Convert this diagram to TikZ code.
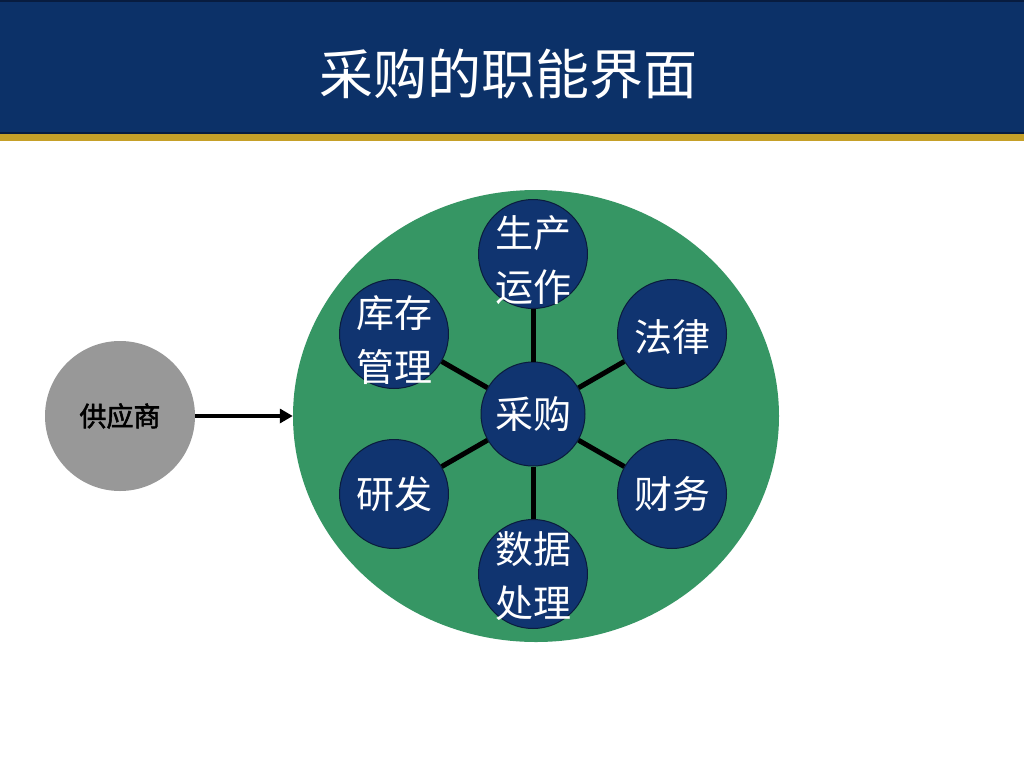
\documentclass[tikz,border=0pt]{standalone}
\usepackage{fontspec}
\setmainfont{Liberation Sans}
\newfontfamily\cjk{Noto Sans CJK SC}
\newfontfamily\cjkb[FakeBold=2]{Noto Sans CJK SC}
\usetikzlibrary{arrows.meta,shapes.geometric}
\definecolor{hdrblue}{RGB}{12,49,104}
\definecolor{hdredge}{RGB}{8,28,64}
\definecolor{gold}{RGB}{198,160,40}
\definecolor{biggreen}{RGB}{54,150,100}
\definecolor{navy}{RGB}{16,52,112}
\definecolor{navyedge}{RGB}{10,28,60}
\definecolor{supgray}{RGB}{152,152,152}
\tikzset{
  func/.style={circle, fill=navy, draw=navyedge, line width=1pt, minimum size=109pt, inner sep=0pt},
  functext/.style={text=white, align=center, inner sep=0pt, font=\cjk\fontsize{38}{54}\selectfont},
  spoke/.style={line width=5pt, draw=black},
  hub/.style={ellipse, fill=biggreen, draw=none, minimum width=486pt, minimum height=452pt, inner sep=0pt},
  supplier/.style={circle, fill=supgray, draw=none, minimum size=150pt, inner sep=0pt,
    text=black, font=\cjkb\fontsize{27}{30}\selectfont},
  flow/.style={line width=3.5pt, -{Triangle[length=13pt,width=14pt]}},
}
\begin{document}
\begin{tikzpicture}[x=1pt,y=-1pt]
\useasboundingbox (0,0) rectangle (1024,768);
\fill[white] (0,0) rectangle (1024,768);
% header
\fill[hdrblue] (0,0) rectangle (1024,133);
\draw[hdredge, line width=2pt] (0,1) -- (1024,1);
\draw[hdredge, line width=2pt] (0,133) -- (1024,133);
\fill[gold] (0,134) rectangle (1024,141);
\node[text=white, font=\cjk\fontsize{54}{60}\selectfont] (title) at (508,74) {采购的职能界面};
% big circle
\node[hub] (big) at (536,416) {};
% centre and functions
\node[func, minimum size=104pt, label={[functext]center:采购}] (c) at (533,414) {};
\node[func, label={[functext, yshift=-6pt]center:生产\\运作}] (prod) at (533,254) {};
\node[func, label={[functext, yshift=-3pt]center:法律}] (law) at (672,334) {};
\node[func, label={[functext]center:财务}] (fin) at (672,494) {};
\node[func, label={[functext, yshift=-2pt]center:数据\\处理}] (data) at (533,574) {};
\node[func, label={[functext]center:研发}] (rd) at (394,494) {};
\node[func, label={[functext, yshift=-6pt]center:库存\\管理}] (inv) at (394,334) {};
\foreach \n in {prod,law,fin,data,rd,inv} \draw[spoke] (c) -- (\n);
% supplier
\node[supplier] (sup) at (120,416) {供应商};
\draw[flow] (sup) -- (big);
\end{tikzpicture}
\end{document}
